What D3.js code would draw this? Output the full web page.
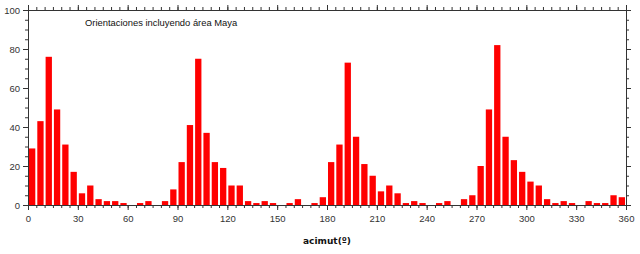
<!DOCTYPE html>
<html>
<head>
<meta charset="utf-8">
<script src="https://cdn.jsdelivr.net/npm/d3@7"></script>
<style>
  body { margin: 0; background: #fff; }
  svg { display: block; font-family: "DejaVu Sans", sans-serif; }
</style>
</head>
<body>
<div id="chart"></div>
<script>
// bins of 5 degrees, start of each bin
const binStarts = d3.range(0, 360, 5);
const counts = [
  29, 43, 76, 49, 31, 17, 6, 10, 3, 2, 2, 1,
  0, 1, 2, 0, 2, 8, 22, 41, 75, 37, 22, 19,
  10, 10, 2, 1, 2, 1, 0, 1, 3, 0, 1, 4,
  22, 31, 73, 35, 21, 15, 7, 10, 6, 1, 2, 1,
  0, 1, 2, 0, 3, 5, 20, 49, 82, 35, 23, 17,
  12, 10, 3, 1, 2, 1, 0, 2, 1, 1, 5, 4
];
const xTicks = [0, 30, 60, 90, 120, 150, 180, 210, 240, 270, 300, 330, 360];
const yTicks = [0, 20, 40, 60, 80, 100];
const title = "Orientaciones incluyendo área Maya";
const xLabel = "acimut(º)";

const data = binStarts.map((b, i) => ({start: b, value: counts[i]}));

// set the dimensions and margins of the graph
const margin = {top: 10, right: 14, bottom: 49, left: 28};
const width = 640 - margin.left - margin.right,
      height = 254 - margin.top - margin.bottom;

const svg = d3.select("#chart")
  .append("svg")
    .attr("width", width + margin.left + margin.right)
    .attr("height", height + margin.top + margin.bottom)
  .append("g")
    .attr("transform", `translate(${margin.left}, ${margin.top})`);

const x = d3.scaleLinear().domain([0, 360]).range([0, width]);
const y = d3.scaleLinear().domain([0, 100]).range([height, 0]);

// bars
svg.append("g")
  .selectAll("rect")
  .data(data)
  .enter()
  .append("rect")
    .attr("x", d => x(d.start) + 1)
    .attr("width", d => x(d.start + 5) - x(d.start) - 2)
    .attr("y", d => y(d.value))
    .attr("height", d => y(0) - y(d.value))
    .attr("fill", "#ff0000");

const axisColor = "#333";

function styleAxis(g) {
  g.selectAll("path").attr("stroke", axisColor);
  g.selectAll("line").attr("stroke", axisColor);
  g.selectAll("text").attr("fill", "#333").style("font-size", "9.5px");
}

// minor ticks
const xMinor = d3.range(0, 361, 5);
const yMinor = d3.range(0, 101, 5);

svg.append("g")
  .attr("transform", `translate(0, ${height})`)
  .call(d3.axisBottom(x).tickValues(xMinor).tickSize(3).tickFormat(""))
  .call(styleAxis);
svg.append("g")
  .attr("transform", `translate(0, ${height})`)
  .call(d3.axisBottom(x).tickValues(xTicks).tickSize(5).tickPadding(5).tickFormat(d3.format("d")))
  .call(styleAxis);

svg.append("g")
  .call(d3.axisTop(x).tickValues(xMinor).tickSize(3).tickFormat(""))
  .call(styleAxis);
svg.append("g")
  .call(d3.axisTop(x).tickValues(xTicks).tickSize(5).tickFormat(""))
  .call(styleAxis);

svg.append("g")
  .call(d3.axisLeft(y).tickValues(yMinor).tickSize(3).tickFormat(""))
  .call(styleAxis);
svg.append("g")
  .call(d3.axisLeft(y).tickValues(yTicks).tickSize(5).tickPadding(3).tickFormat(d3.format("d")))
  .call(styleAxis);

svg.append("g")
  .attr("transform", `translate(${width}, 0)`)
  .call(d3.axisRight(y).tickValues(yMinor).tickSize(3).tickFormat(""))
  .call(styleAxis);
svg.append("g")
  .attr("transform", `translate(${width}, 0)`)
  .call(d3.axisRight(y).tickValues(yTicks).tickSize(5).tickFormat(""))
  .call(styleAxis);

// title inside the plot
svg.append("text")
  .attr("x", 57)
  .attr("y", 16)
  .style("font-family", "'Liberation Sans', sans-serif")
  .style("font-size", "9.4px")
  .attr("fill", "#111")
  .text(title);

// x axis label
svg.append("text")
  .attr("x", width / 2)
  .attr("y", height + 39)
  .style("text-anchor", "middle")
  .style("font-size", "9px")
  .style("font-weight", "bold")
  .attr("fill", "#111")
  .text(xLabel);
</script>
</body>
</html>
